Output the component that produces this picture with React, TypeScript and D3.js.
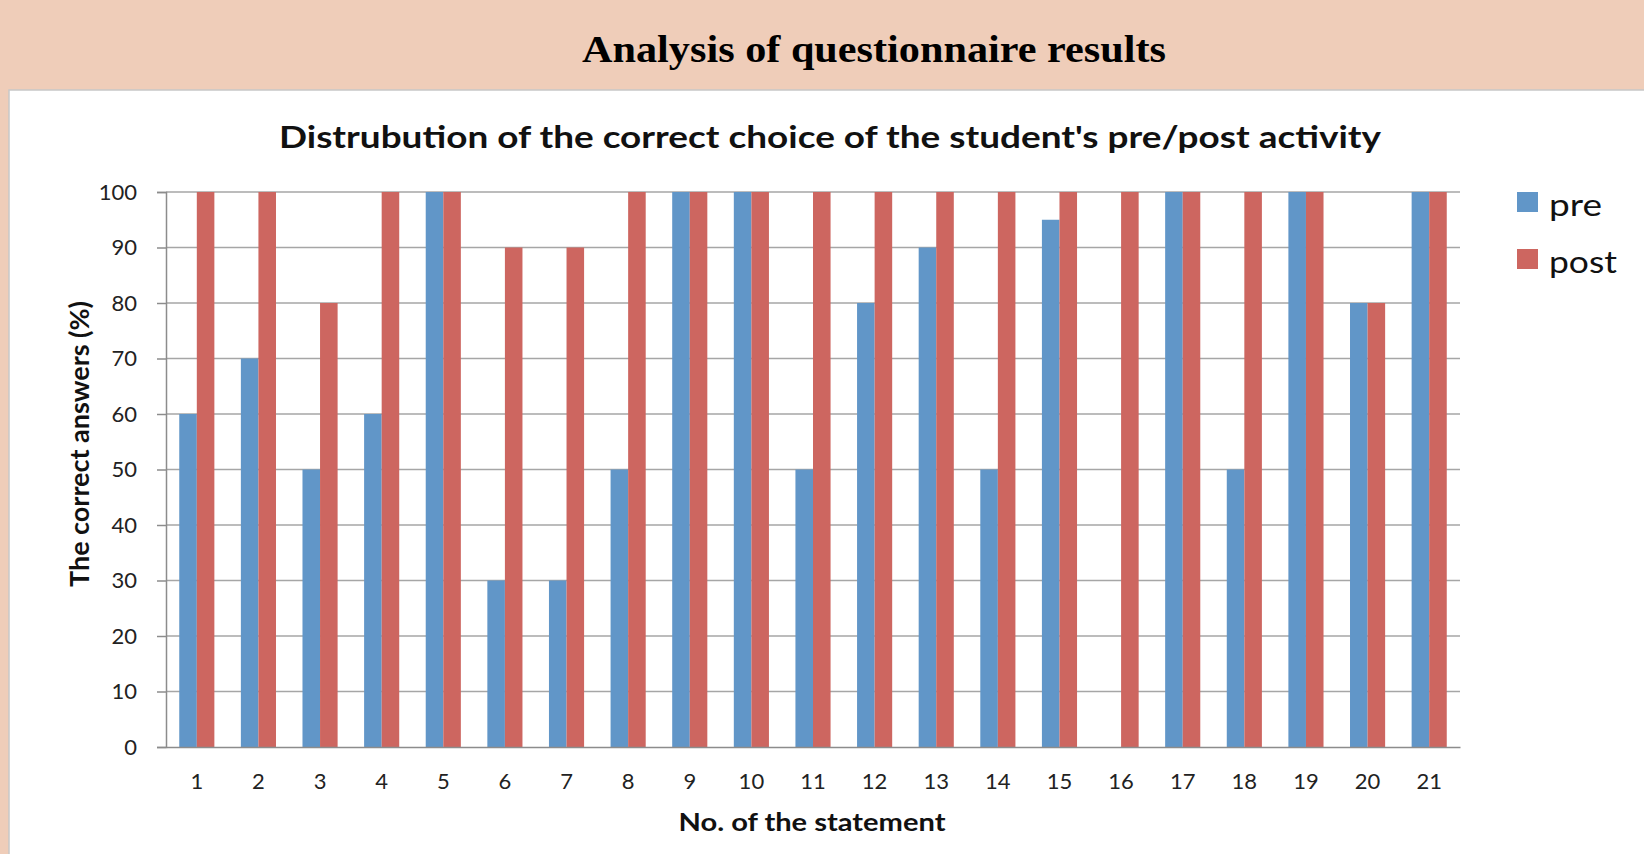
import React, { useEffect, useRef } from "react";
import { select, scaleBand, scaleLinear, axisLeft, axisBottom } from "d3";

const statements = [
  "1", "2", "3", "4", "5", "6", "7", "8", "9", "10", "11",
  "12", "13", "14", "15", "16", "17", "18", "19", "20", "21",
];
const preValues = [60, 70, 50, 60, 100, 30, 30, 50, 100, 100, 50, 80, 90, 50, 95, 0, 100, 50, 100, 80, 100];
const postValues = [100, 100, 80, 100, 100, 90, 90, 100, 100, 100, 100, 100, 100, 100, 100, 100, 100, 100, 100, 80, 100];
const seriesNames = ["pre", "post"];
const yTicks = [0, 10, 20, 30, 40, 50, 60, 70, 80, 90, 100];

const W = 1644;
const H = 854;
const colors = ["#6196C8", "#CD6660"];
const font = "Lato, 'Open Sans', sans-serif";

const App = () => {
  const ref = useRef<SVGSVGElement>(null);

  useEffect(() => {
    const svg = select(ref.current);
    svg.selectAll("*").remove();

    // slide background
    svg.append("rect").attr("width", W).attr("height", H).attr("fill", "#EFCDB9");
    svg
      .append("rect")
      .attr("x", 9)
      .attr("y", 90)
      .attr("width", W)
      .attr("height", H)
      .attr("fill", "#fff")
      .attr("stroke", "#c8c8c8")
      .attr("stroke-width", 1.5);

    svg
      .append("text")
      .attr("x", 874)
      .attr("y", 62)
      .attr("text-anchor", "middle")
      .attr("font-family", "'Liberation Serif', serif")
      .attr("font-weight", "bold")
      .attr("font-size", 38)
      .attr("textLength", 584)
      .attr("lengthAdjust", "spacingAndGlyphs")
      .attr("fill", "#000")
      .text("Analysis of questionnaire results");

    const left = 166, right = 1460, top = 192, bottom = 747;

    const x = scaleBand().domain(statements).range([left, right]).paddingInner(0.43).paddingOuter(0.215);
    const x1 = scaleBand().domain(seriesNames).range([0, x.bandwidth()]);
    const y = scaleLinear().domain([0, 100]).range([bottom, top]);

    // gridlines
    svg
      .append("g")
      .selectAll("line")
      .data(yTicks.filter((d) => d > 0))
      .join("line")
      .attr("x1", left)
      .attr("x2", right)
      .attr("y1", (d) => y(d))
      .attr("y2", (d) => y(d))
      .attr("stroke", "#a6a6a6")
      .attr("stroke-width", 1.5);

    // bars
    const series = [preValues, postValues];
    series.forEach((vals, si) => {
      svg
        .append("g")
        .selectAll("rect")
        .data(vals)
        .join("rect")
        .attr("x", (d, i) => (x(statements[i]) as number) + (x1(seriesNames[si]) as number))
        .attr("width", x1.bandwidth())
        .attr("y", (d) => y(d))
        .attr("height", (d) => bottom - y(d))
        .attr("fill", colors[si]);
    });

    // y axis
    const yAxis = axisLeft(y).tickValues(yTicks).tickSize(9).tickPadding(20);
    const gy = svg.append("g").attr("transform", `translate(${left},0)`).call(yAxis);
    gy.select(".domain").attr("stroke", "#8c8c8c").attr("stroke-width", 1.5);
    gy.selectAll(".tick line").attr("stroke", "#8c8c8c").attr("stroke-width", 1.5);
    gy.selectAll(".tick text")
      .attr("font-family", font)
      .attr("font-size", 22)
      .attr("fill", "#222");

    // x axis
    const xAxis = axisBottom(x).tickSize(0).tickPadding(26);
    const gx = svg.append("g").attr("transform", `translate(0,${bottom})`).call(xAxis);
    gx.select(".domain").attr("stroke", "#8c8c8c").attr("stroke-width", 1.5);
    gx.selectAll(".tick text")
      .attr("font-family", font)
      .attr("font-size", 22)
      .attr("fill", "#222");

    // titles
    svg
      .append("text")
      .attr("x", 830)
      .attr("y", 148)
      .attr("text-anchor", "middle")
      .attr("font-family", font)
      .attr("font-weight", "bold")
      .attr("font-size", 31)
      .attr("textLength", 1102)
      .attr("lengthAdjust", "spacingAndGlyphs")
      .attr("fill", "#111")
      .text("Distrubution of the correct choice of the student's pre/post activity");

    svg
      .append("text")
      .attr("x", 812)
      .attr("y", 831)
      .attr("text-anchor", "middle")
      .attr("font-family", font)
      .attr("font-weight", "bold")
      .attr("font-size", 25)
      .attr("textLength", 267)
      .attr("lengthAdjust", "spacingAndGlyphs")
      .attr("fill", "#111")
      .text("No. of the statement");

    svg
      .append("text")
      .attr("transform", "translate(89,444) rotate(-90)")
      .attr("text-anchor", "middle")
      .attr("font-family", font)
      .attr("font-weight", "bold")
      .attr("font-size", 26)
      .attr("textLength", 286)
      .attr("lengthAdjust", "spacingAndGlyphs")
      .attr("fill", "#111")
      .text("The correct answers (%)");

    // legend
    const lg = svg
      .append("g")
      .selectAll("g")
      .data(seriesNames)
      .join("g")
      .attr("transform", (d, i) => `translate(1517,${192 + i * 57})`);
    lg.append("rect").attr("width", 21).attr("height", 20).attr("fill", (d, i) => colors[i]);
    lg.append("text")
      .attr("x", 32)
      .attr("y", 24)
      .attr("font-family", font)
      .attr("font-size", 31)
      .attr("textLength", (d) => (d === "pre" ? 53 : 68))
      .attr("lengthAdjust", "spacingAndGlyphs")
      .attr("fill", "#111")
      .text((d) => d);
  }, []);

  return (
    <svg
      ref={ref}
      width={W}
      height={H}
      style={{ position: "absolute", left: 0, top: 0, display: "block" }}
    />
  );
};

export default App;
